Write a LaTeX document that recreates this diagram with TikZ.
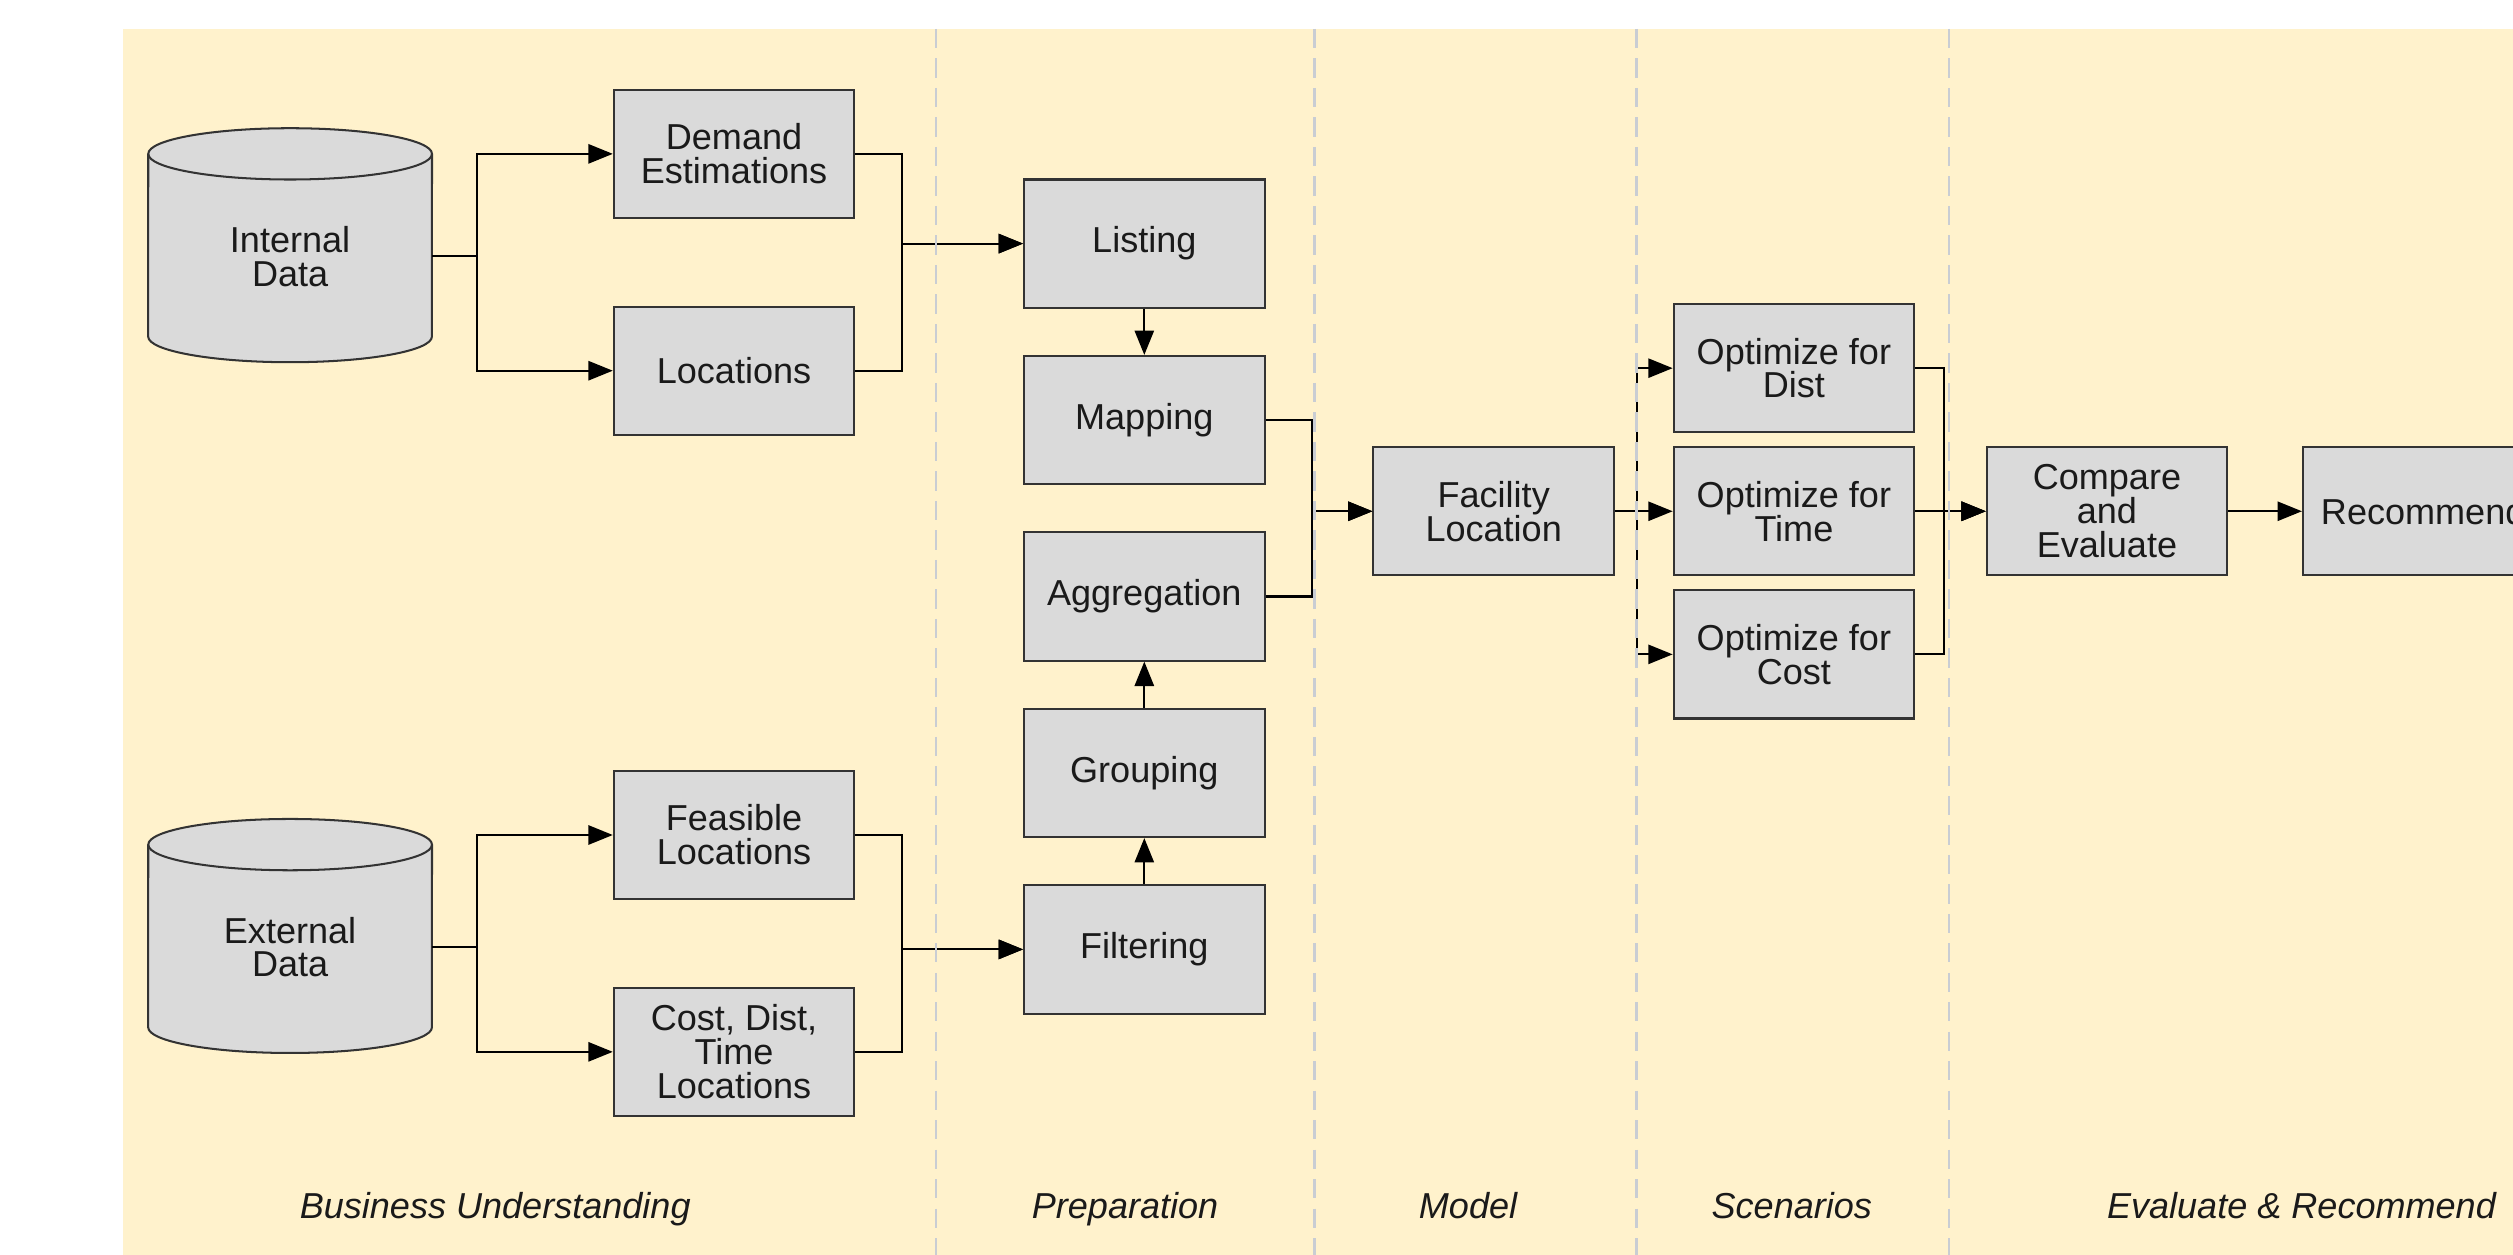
\documentclass[tikz,border=0pt]{standalone}
\usepackage{fontspec}
\setmainfont{Liberation Sans}
\usetikzlibrary{arrows.meta,calc,positioning}
\definecolor{cream}{HTML}{FFF2CC}
\definecolor{boxgray}{HTML}{DADADA}
\definecolor{edgegray}{HTML}{333333}
\definecolor{lanegray}{HTML}{C9CDD3}
\definecolor{ink}{HTML}{1A1A1A}

\begin{document}
\begin{tikzpicture}[
x=0.025cm,y=-0.025cm,
node distance=7.2mm and 17mm,
box/.style={draw=edgegray,line width=0.9pt,fill=boxgray,align=center,minimum width=3.75cm,minimum height=2cm,inner sep=0pt,text=ink,font=\fontsize{16}{15}\selectfont},
dbase/.style={align=center,minimum width=4.425cm,minimum height=2cm,inner sep=0pt,text=ink,font=\fontsize{16}{15}\selectfont},
cyl/.style={draw=edgegray,line width=0.9pt,fill=boxgray},
arr/.style={-{Triangle[length=3.8mm,width=3mm]},line width=0.9pt,draw=black},
lane/.style={draw=lanegray,line width=1.2pt,dash pattern=on 3mm off 1.6mm},
phase/.style={font=\fontsize{16}{15}\selectfont\itshape,text=ink,anchor=base}
]
\useasboundingbox (0,0) rectangle (1568,783);
\fill[cream] (77,18) rectangle (1568,783);

% data sources
\foreach \n/\cy/\t in {intdata/160/Internal,extdata/591/External}{
  \draw[cyl] (92.5,\cy-64) arc[start angle=180,end angle=0,x radius=2.2125cm,y radius=4mm]
    -- (269.5,\cy+50) arc[start angle=0,end angle=-180,x radius=2.2125cm,y radius=4mm] -- cycle;
  \draw[cyl,fill=none] (92.5,\cy-64) arc[start angle=180,end angle=360,x radius=2.2125cm,y radius=4mm];
  \node[dbase] (\n) at (181,\cy) {\t\\Data};
}

\node[box] (demand) at (458,96) {Demand\\Estimations};
\node[box,below=13.5mm of demand] (locs) {Locations};
\node[box] (feasible) at (458,521) {Feasible\\Locations};
\node[box,below=13.5mm of feasible] (cdtlocs) {Cost, Dist,\\Time\\Locations};

% preparation
\node[box] (listing) at (714,152) {Listing};
\node[box,below=of listing] (mapping) {Mapping};
\node[box,below=of mapping] (aggreg) {Aggregation};
\node[box,below=of aggreg] (grouping) {Grouping};
\node[box,below=of grouping] (filtering) {Filtering};

% model, scenarios, evaluation
\node[box] (facility) at (932,319) {Facility\\Location};
\node[box,right=9mm of facility] (opttime) {Optimize for\\Time};
\node[box,above=2mm of opttime] (optdist) {Optimize for\\Dist};
\node[box,below=2mm of opttime] (optcost) {Optimize for\\Cost};
\node[box,right=11mm of opttime] (compare) {Compare\\and\\Evaluate};
\node[box,right=11.5mm of compare] (recommend) {Recommend};

\draw[arr] (intdata.east) -- ++(28,0) |- (demand);
\draw[arr] (intdata.east) -- ++(28,0) |- (locs);
\draw[arr] (extdata.east) -- ++(28,0) |- (feasible);
\draw[arr] (extdata.east) -- ++(28,0) |- (cdtlocs);
\draw[arr] (demand.east) -- ++(29,0) |- (listing);
\draw[arr] (locs.east) -- ++(29,0) |- (listing);
\draw[arr] (feasible.east) -- ++(29,0) |- (filtering);
\draw[arr] (cdtlocs.east) -- ++(29,0) |- (filtering);
\draw[arr] (listing) -- (mapping);
\draw[arr] (filtering) -- (grouping);
\draw[arr] (grouping) -- (aggreg);
\draw[arr] (mapping.east) -- ++(29,0) |- (facility);
\draw[arr] (aggreg.east) -- ++(29,0) |- (facility);
\foreach \o in {optdist,opttime,optcost}{
  \draw[arr] (facility.east) -- ++(14,0) |- (\o);
  \draw[arr] (\o.east) -- ++(18,0) |- (compare);
}
\draw[arr] (compare) -- (recommend);

% lanes
\foreach \lx in {584,820,1021,1216}
  \draw[lane] (\lx,18) -- (\lx,783);

\node[phase] (bizund) at (309,760) {Business Understanding};
\node[phase] (prep) at (702,760) {Preparation};
\node[phase] (model) at (916,760) {Model};
\node[phase] (scen) at (1118,760) {Scenarios};
\node[phase] (evalrec) at (1436,760) {Evaluate \& Recommend};
\end{tikzpicture}
\end{document}
